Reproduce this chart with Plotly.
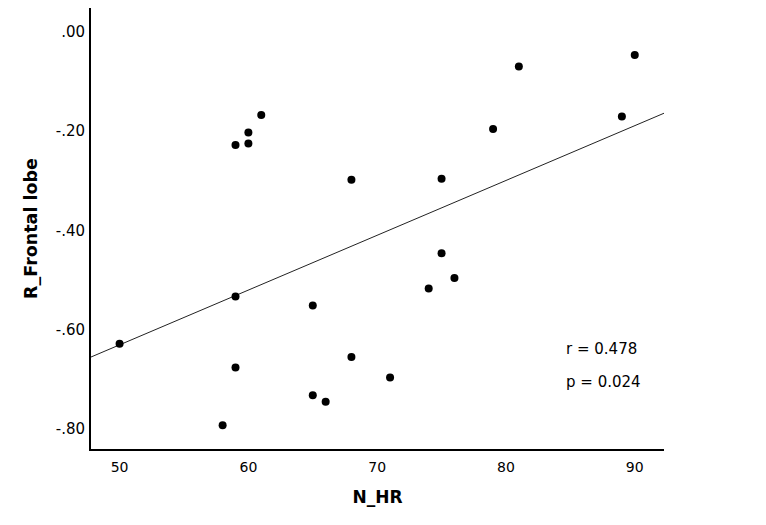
import numpy as np
import plotly.graph_objects as go

n_hr = [50, 59, 60, 60, 61, 68, 59, 65, 68, 59, 65, 66, 58,
        81, 90, 89, 79, 75, 75, 76, 74, 71]
r_frontal = [-0.628, -0.228, -0.203, -0.225, -0.168, -0.298, -0.533, -0.551,
             -0.655, -0.676, -0.732, -0.745, -0.792,
             -0.070, -0.047, -0.171, -0.196, -0.296, -0.446, -0.496, -0.517, -0.696]

x_ticks = [50, 60, 70, 80, 90]
y_ticks = [0.0, -0.2, -0.4, -0.6, -0.8]
y_tick_text = [".00", "-.20", "-.40", "-.60", "-.80"]
stats_text = ["r = 0.478", "p = 0.024"]

x_range = [47.78, 92.27]
y_range = [-0.840, 0.0476]

slope, intercept = np.polyfit(n_hr, r_frontal, 1)
fit_x = np.array(x_range)
fit_y = slope * fit_x + intercept

fig = go.Figure()
fig.add_trace(go.Scatter(x=fit_x, y=fit_y, mode="lines",
                         line=dict(color="#222222", width=1), hoverinfo="skip"))
fig.add_trace(go.Scatter(x=n_hr, y=r_frontal, mode="markers",
                         marker=dict(color="black", size=8)))

font_family = "DejaVu Sans"
fig.update_layout(
    width=766, height=525,
    margin=dict(l=83, r=110, t=0, b=84),
    paper_bgcolor="white", plot_bgcolor="white",
    showlegend=False,
    font=dict(family=font_family, color="black", size=14),
    xaxis=dict(range=x_range, tickvals=x_ticks, showgrid=False, zeroline=False,
               showline=True, linecolor="black", linewidth=2, ticks="",
               tickfont=dict(size=14), ticklabelstandoff=4, automargin=False,
               title=dict(text="<b>N_HR</b>", font=dict(size=17), standoff=17)),
    yaxis=dict(range=y_range, tickvals=y_ticks, ticktext=y_tick_text,
               showgrid=False, zeroline=False,
               showline=True, linecolor="black", linewidth=2, ticks="",
               tickfont=dict(size=15), ticklabelstandoff=1, automargin=False,
               title=dict(text="<b>R_Frontal lobe</b>", font=dict(size=17.5), standoff=14)),
)
for i, yy in enumerate([349, 382]):
    fig.add_annotation(xref="paper", yref="paper", x=(564 - 91) / 573,
                       y=(449 - yy) / 441, xanchor="left", yanchor="middle",
                       text=stats_text[i], showarrow=False, font=dict(size=15))

fig.write_html("out.html")
